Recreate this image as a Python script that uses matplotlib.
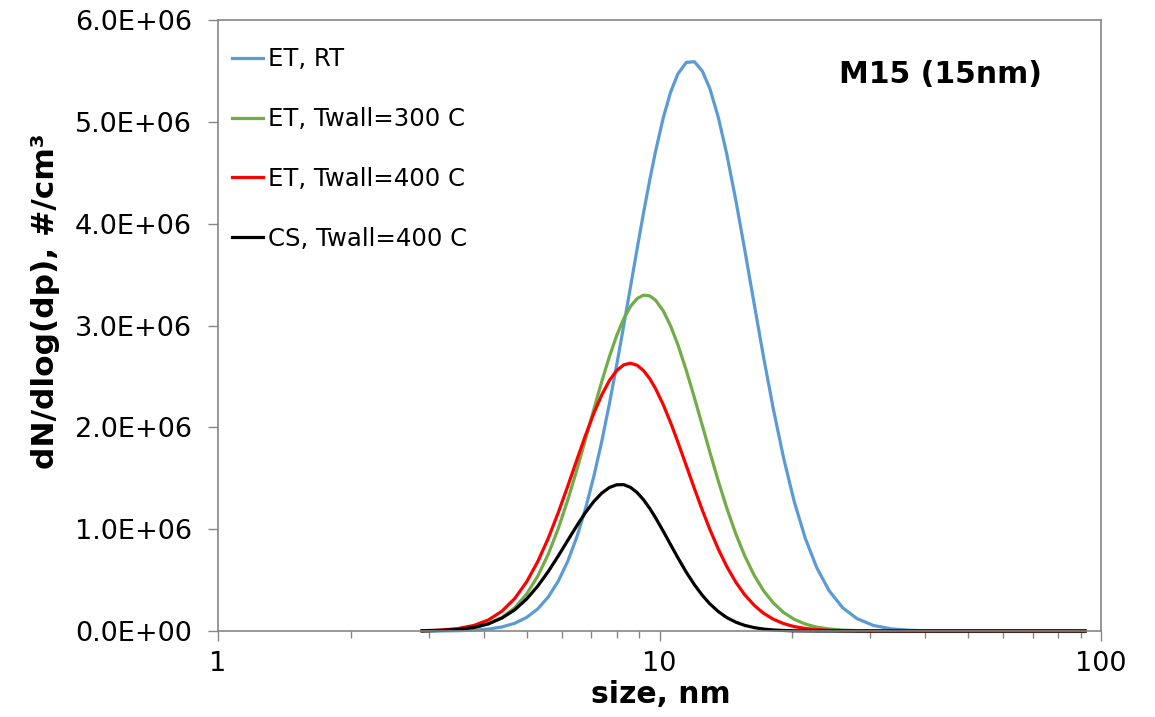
import numpy as np
import matplotlib
matplotlib.use("Agg")
import matplotlib.pyplot as plt
from matplotlib.ticker import FixedLocator, LogLocator, FuncFormatter, NullFormatter

# particle size (nm) and dN/dlog(dp) in units of 1E+06 #/cm3
size_nm = [2.9, 3.2, 3.5, 3.8, 4.1, 4.4, 4.7, 5.0, 5.3, 5.6, 5.9, 6.2, 6.5, 6.8,
           7.1, 7.4, 7.7, 8.0, 8.3, 8.6, 8.9, 9.2, 9.5, 9.8, 10.2, 10.6, 11.0,
           11.5, 12.0, 12.5, 13.0, 13.6, 14.2, 14.9, 15.6, 16.4, 17.2, 18.1,
           19.1, 20.2, 21.4, 22.7, 24.2, 26.0, 28.0, 30.5, 33.5, 37.0, 42.0,
           50.0, 60.0, 72.0, 92.0]

et_rt = [0, .001, .003, .008, .019, .040, .076, .133, .217, .335, .491, .687,
         .925, 1.203, 1.519, 1.862, 2.231, 2.613, 3.002, 3.384, 3.755, 4.105,
         4.426, 4.714, 5.041, 5.293, 5.469, 5.584, 5.590, 5.499, 5.328, 5.039,
         4.684, 4.222, 3.742, 3.202, 2.694, 2.183, 1.700, 1.268, .908, .623,
         .398, .228, .122, .055, .021, .007, .001, 0, 0, 0, 0]

et_300 = [.001, .005, .014, .033, .070, .133, .228, .363, .539, .756, 1.008,
          1.288, 1.584, 1.884, 2.177, 2.450, 2.694, 2.902, 3.068, 3.189, 3.265,
          3.298, 3.291, 3.248, 3.143, 2.994, 2.814, 2.559, 2.289, 2.019, 1.758,
          1.468, 1.208, .949, .737, .544, .397, .276, .182, .114, .068, .038,
          .020, .009, .004, .001, 0, 0, 0, 0, 0, 0, 0]

et_400 = [.003, .009, .024, .055, .109, .196, .319, .482, .682, .912, 1.165,
          1.425, 1.682, 1.923, 2.138, 2.318, 2.460, 2.558, 2.614, 2.630, 2.609,
          2.557, 2.479, 2.379, 2.221, 2.044, 1.858, 1.623, 1.397, 1.188, .999,
          .801, .634, .477, .355, .251, .175, .116, .073, .043, .025, .013,
          .006, .003, .001, 0, 0, 0, 0, 0, 0, 0, 0]

cs_400 = [.002, .006, .015, .035, .071, .128, .208, .314, .441, .585, .738,
          .891, 1.035, 1.165, 1.272, 1.354, 1.409, 1.436, 1.437, 1.410, 1.359,
          1.289, 1.205, 1.111, .979, .847, .721, .577, .454, .351, .267, .190,
          .132, .086, .055, .033, .019, .010, .005, .002, .001, 0, 0, 0, 0, 0,
          0, 0, 0, 0, 0, 0, 0]

labels = ['ET, RT', 'ET, Twall=300 C', 'ET, Twall=400 C', 'CS, Twall=400 C']
colors = ['#5B9BD5', '#70AD47', '#FF0000', '#000000']

plt.rcParams['font.family'] = 'DejaVu Sans'

fig = plt.figure(figsize=(11.55, 7.17), dpi=100)
ax = fig.add_axes([218 / 1155, 1 - 631 / 717, (1101 - 218) / 1155, (631 - 20) / 717])

for ys, lab, c in zip([et_rt, et_300, et_400, cs_400], labels, colors):
    ax.plot(size_nm, np.array(ys) * 1e6, color=c, lw=2.3, label=lab, clip_on=False)

ax.set_xscale('log')
ax.set_xlim(1, 100)
ax.set_ylim(0, 6e6)
ax.set_yticks(np.arange(0, 6.01e6, 1e6))
ax.yaxis.set_major_formatter(FuncFormatter(lambda v, p: f'{v:.1E}'))
ax.xaxis.set_major_locator(FixedLocator([1, 10, 100]))
ax.xaxis.set_major_formatter(FuncFormatter(lambda v, p: f'{v:g}'))
ax.xaxis.set_minor_locator(LogLocator(base=10, subs=np.arange(2, 10)))
ax.xaxis.set_minor_formatter(NullFormatter())

gray = '#868686'
ax.tick_params(axis='both', which='major', direction='out', length=7.5, width=1,
               color=gray, labelsize=19.5)
ax.tick_params(axis='x', which='minor', direction='out', length=5, width=1, color=gray)
ax.tick_params(axis='y', pad=11)
ax.tick_params(axis='x', pad=7)
for s in ax.spines.values():
    s.set_color(gray)
    s.set_linewidth(1.2)

ax.legend(loc='upper left', bbox_to_anchor=(0.016, 0.955), frameon=False,
          fontsize=17.6, handlelength=1.25, handletextpad=0.2, labelspacing=1.46,
          borderaxespad=0, borderpad=0)

ax.set_ylabel('dN/dlog(dp), #/cm³', fontsize=22.5, fontweight='bold')
ax.yaxis.set_label_coords(-0.179, 0.54)
ax.set_xlabel('size, nm', fontsize=21.5, fontweight='bold')
ax.xaxis.set_label_coords(0.501, -0.08)

ax.text(0.8186, 0.91, 'M15 (15nm)', transform=ax.transAxes, ha='center',
        va='center', fontsize=21.5, fontweight='bold')

fig.savefig('out.png', dpi=100)
